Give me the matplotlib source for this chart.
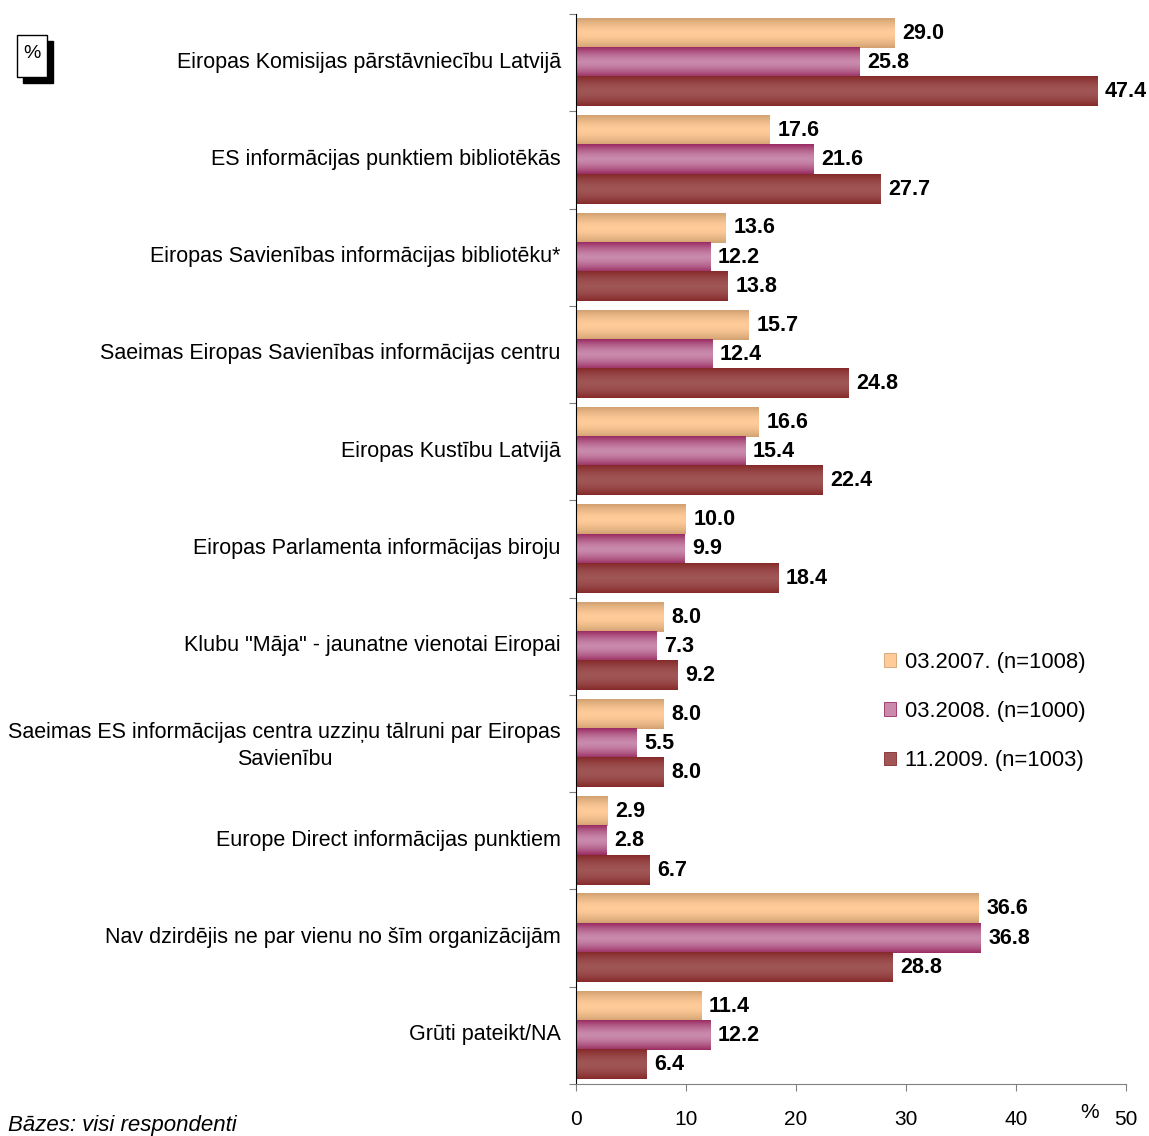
import numpy as np
import matplotlib
matplotlib.use("Agg")
import matplotlib.pyplot as plt
import matplotlib.transforms as mtransforms
from matplotlib.colors import LinearSegmentedColormap
from matplotlib.patches import Rectangle, Patch

plt.rcParams['font.family'] = ['Liberation Sans', 'DejaVu Sans']

categories = [
    "Eiropas Komisijas pārstāvniecību Latvijā",
    "ES informācijas punktiem bibliotēkās",
    "Eiropas Savienības informācijas bibliotēku*",
    "Saeimas Eiropas Savienības informācijas centru",
    "Eiropas Kustību Latvijā",
    "Eiropas Parlamenta informācijas biroju",
    "Klubu \"Māja\" - jaunatne vienotai Eiropai",
    "Saeimas ES informācijas centra uzziņu tālruni par Eiropas\nSavienību",
    "Europe Direct informācijas punktiem",
    "Nav dzirdējis ne par vienu no šīm organizācijām",
    "Grūti pateikt/NA",
]
s2007 = [29.0, 17.6, 13.6, 15.7, 16.6, 10.0, 8.0, 8.0, 2.9, 36.6, 11.4]
s2008 = [25.8, 21.6, 12.2, 12.4, 15.4, 9.9, 7.3, 5.5, 2.8, 36.8, 12.2]
s2009 = [47.4, 27.7, 13.8, 24.8, 22.4, 18.4, 9.2, 8.0, 6.7, 28.8, 6.4]
series_names = ["03.2007. (n=1008)", "03.2008. (n=1000)", "11.2009. (n=1003)"]

# edge / centre colours for the shaded bars
shades = [
    ("#D2A172", "#FFCC99"),
    ("#9A2C62", "#C98AAC"),
    ("#862A2A", "#A05656"),
]

fig = plt.figure(figsize=(11.49, 11.36), dpi=100)
ax = fig.add_axes([576 / 1149, 1 - 1084 / 1136, 550 / 1149, 1070 / 1136])

y = np.arange(len(categories))
h = 0.3
grad = np.abs(np.linspace(-1, 1, 64)).reshape(-1, 1)

for k, vals in enumerate([s2007, s2008, s2009]):
    edge, mid = shades[k]
    cmap = LinearSegmentedColormap.from_list(f"g{k}", [mid, edge])
    bars = ax.barh(y + (k - 1) * h, vals, height=h, color=mid, linewidth=0)
    for b, v in zip(bars, vals):
        y0 = b.get_y()
        ax.imshow(grad ** 1.6, cmap=cmap, aspect="auto", vmin=0, vmax=1,
                  extent=(0, b.get_width(), y0 + h, y0), zorder=2)
        ax.text(v + 0.7, y0 + h / 2, f"{v:.1f}", ha="left", va="center",
                fontsize=15.5, fontweight="bold", zorder=3)

ax.set_xlim(0, 50)
ax.set_ylim(len(categories) - 0.5, -0.5)

for side in ["top", "right"]:
    ax.spines[side].set_visible(False)
ax.spines["bottom"].set_color("#808080")
ax.spines["left"].set_color("black")

ax.set_xticks(np.arange(0, 51, 10))
ax.tick_params(axis="x", direction="out", length=5, color="#808080",
               labelsize=15, pad=14)

ax.set_yticks(np.arange(len(categories) + 1) - 0.5)
ax.set_yticklabels([])
ax.tick_params(axis="y", which="major", direction="out", length=5, color="#808080")
ax.set_yticks(y, minor=True)
ax.set_yticklabels(categories, minor=True, fontsize=15.5,
                   multialignment="center", linespacing=1.35)
ax.tick_params(axis="y", which="minor", length=0, pad=11)
# category labels sit a few pixels above the group centre
shift = mtransforms.ScaledTranslation(0, 3 / 100, fig.dpi_scale_trans)
for lab in ax.get_yticklabels(minor=True):
    lab.set_transform(lab.get_transform() + shift)

handles = [Patch(facecolor=shades[k][1], edgecolor=shades[k][0], linewidth=0.6)
           for k in range(3)]
ax.legend(handles, series_names, loc="upper left",
          bbox_to_anchor=(0.56, 0.404), frameon=False, fontsize=15.8,
          borderaxespad=0, borderpad=0,
          handlelength=0.55, handleheight=0.55, handletextpad=0.4,
          labelspacing=1.28)

fig.text(1090 / 1149, 1 - 1113 / 1136, "%", fontsize=15, ha="center", va="center")
fig.text(8 / 1149, 1 - 1126 / 1136, "Bāzes: visi respondenti", fontsize=16,
         style="italic", ha="left", va="center")

# percent box with shadow
fig.patches.append(Rectangle((23 / 1149, 1 - 83 / 1136), 30 / 1149, 42 / 1136,
                             transform=fig.transFigure, facecolor="black",
                             edgecolor="black", zorder=1))
fig.patches.append(Rectangle((17 / 1149, 1 - 77 / 1136), 30 / 1149, 42 / 1136,
                             transform=fig.transFigure, facecolor="white",
                             edgecolor="black", linewidth=1, zorder=2))
fig.text(32 / 1149, 1 - 53 / 1136, "%", fontsize=14, ha="center", va="center", zorder=3)

fig.savefig("out.png", dpi=100)
